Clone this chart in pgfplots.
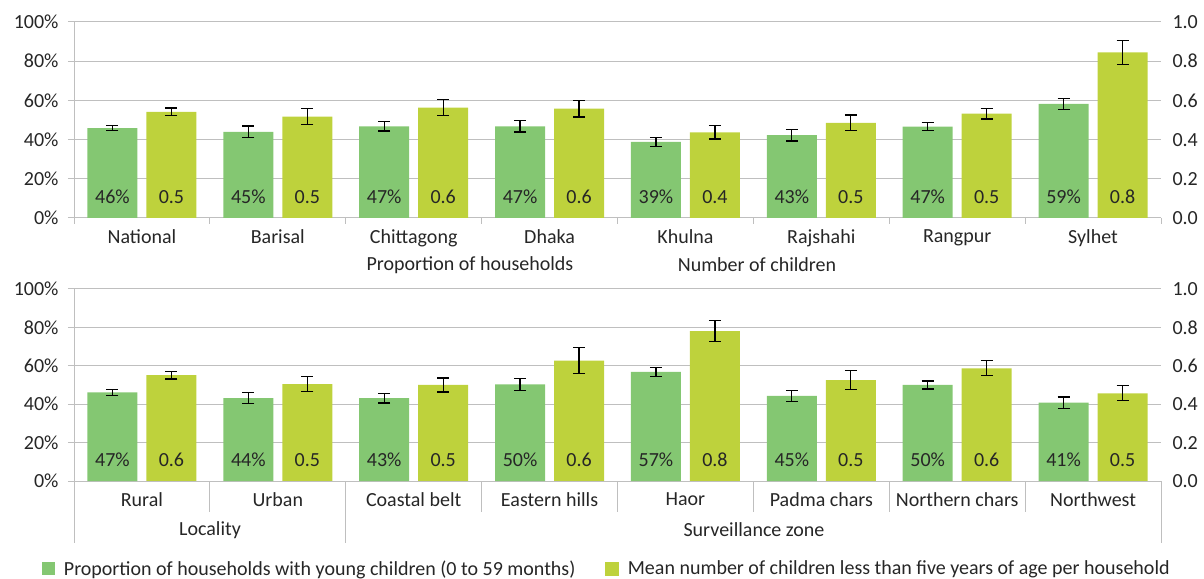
\documentclass[border=0pt]{standalone}
\usepackage{pgfplots}
\pgfplotsset{compat=1.18}
\usepackage{pgfplotstable}
\usepackage{fontspec}
\setmainfont{Carlito}
\newcommand\fs{\fontsize{20bp}{24bp}\selectfont}
\definecolor{gbar}{RGB}{132,199,114}
\definecolor{ygbar}{RGB}{190,210,60}
\definecolor{gridc}{RGB}{191,191,191}
\definecolor{txt}{RGB}{38,38,38}

% x  green  err   mean   err    label-green label-mean  zero
\pgfplotstableread{
x g ge y ye gl yl z
0 45.8 1.3 0.542 0.019 46 0.5 0
1 44.0 3.0 0.517 0.041 45 0.5 0
2 46.8 2.4 0.563 0.040 47 0.6 0
3 46.8 3.0 0.558 0.042 47 0.6 0
4 38.8 2.2 0.437 0.034 39 0.4 0
5 42.3 3.0 0.485 0.040 43 0.5 0
6 46.6 2.1 0.532 0.027 47 0.5 0
7 58.2 2.9 0.845 0.062 59 0.8 0
}\toptab

\pgfplotstableread{
x g ge y ye gl yl z
0 46.2 1.5 0.552 0.020 47 0.6 0
1 43.2 3.0 0.505 0.039 44 0.5 0
2 43.1 2.4 0.500 0.036 43 0.5 0
3 50.3 3.2 0.627 0.067 50 0.6 0
4 56.9 2.3 0.780 0.055 57 0.8 0
5 44.4 2.9 0.526 0.049 45 0.5 0
6 50.0 2.1 0.587 0.039 50 0.6 0
7 40.8 2.9 0.457 0.039 41 0.5 0
}\bottab

\pgfplotsset{
  /pgf/number format/assume math mode=true,
  base/.style={scale only axis, width=1087bp, xmin=-0.5, xmax=7.5,
    ybar, bar width=50bp, clip=false,
    tick label style={font=\fs, text=txt}},
  leftax/.style={base, ymin=0, ymax=100, ytick={0,20,...,100},
    yticklabel={\pgfmathprintnumber{\tick}\%},
    ymajorgrids, grid style={gridc, line width=1bp},
    axis lines*=left, axis line style={gridc, line width=1bp},
    tick align=outside, major tick length=6bp,
    ytick style={gridc, line width=1bp},
    xtick={0,...,7}, xtick style={draw=none},
    yticklabel style={xshift=-6bp},
    xticklabel style={yshift=-2bp}},
  rightax/.style={base, ymin=0, ymax=1, ytick={0,0.2,...,1},
    axis y line*=right, axis x line=none,
    y axis line style={draw=none}, tick style={draw=none},
    yticklabel style={/pgf/number format/.cd, fixed, fixed zerofill, precision=1, /tikz/.cd, xshift=8bp}},
  errs/.style={error bars/.cd, y dir=both, y explicit,
    error bar style={black, line width=1.3bp},
    error mark options={black, line width=1.3bp, mark size=6bp, rotate=90}, /pgfplots/.cd},
  labsg/.style={draw=none, fill=none, forget plot, bar shift=-29.5bp,
    point meta=explicit,
    nodes near coords={\pgfmathprintnumber{\pgfplotspointmeta}\%},
    every node near coord/.append style={anchor=center, yshift=21bp, font=\fs, text=txt}},
  labsy/.style={draw=none, fill=none, forget plot, bar shift=29.5bp,
    point meta=explicit,
    nodes near coords={\pgfmathprintnumber[fixed, fixed zerofill, precision=1]{\pgfplotspointmeta}},
    every node near coord/.append style={anchor=center, yshift=21bp, font=\fs, text=txt}},
}

\begin{document}
\begin{tikzpicture}[font=\fs]
\useasboundingbox (0bp,0bp) rectangle (1204bp,579bp);

% ---------- top panel ----------
\begin{axis}[leftax, at={(74bp,361bp)}, anchor=south west, height=196bp,
  xticklabels={National,Barisal,Chittagong,Dhaka,Khulna,Rajshahi,Rangpur,Sylhet}]
\addplot[fill=gbar, draw=none, bar shift=-29.5bp, errs] table[x=x, y=g, y error=ge]{\toptab};
\addplot[labsg] table[x=x, y=z, meta=gl]{\toptab};
\pgfplotsinvokeforeach{-0.5,0.5,1.5,2.5,3.5,4.5,5.5,6.5,7.5}{
  \draw[gridc, line width=1bp] (axis cs:#1,0) -- ++(0bp,-6bp);
}
\end{axis}
\begin{axis}[rightax, at={(74bp,361bp)}, anchor=south west, height=196bp]
\addplot[fill=ygbar, draw=none, bar shift=29.5bp, errs] table[x=x, y=y, y error=ye]{\toptab};
\addplot[labsy] table[x=x, y=z, meta=yl]{\toptab};
\end{axis}

% ---------- bottom panel ----------
\begin{axis}[leftax, at={(74bp,98bp)}, anchor=south west, height=192bp,
  xticklabels={Rural,Urban,Coastal belt,Eastern hills,Haor,Padma chars,Northern chars,Northwest},
  legend style={draw=none, fill=none, at={(-0.0297,-0.456)}, anchor=west,
    legend columns=2, font=\fs, text=txt, inner sep=0pt,
    /tikz/every odd column/.append style={column sep=7bp},
    /tikz/every even column/.append style={column sep=28bp}},
  legend cell align=left]
\addplot[fill=gbar, draw=none, bar shift=-29.5bp,
  legend image code/.code={\fill[gbar] (0bp,-6.5bp) rectangle (13bp,6.5bp);}, errs]
  table[x=x, y=g, y error=ge]{\bottab};
\addlegendentry{Proportion of households with young children (0 to 59 months)}
\addlegendimage{legend image code/.code={\fill[ygbar] (0bp,-6.5bp) rectangle (13bp,6.5bp);}}
\addlegendentry{Mean number of children less than five years of age per household}
\addplot[labsg] table[x=x, y=z, meta=gl]{\bottab};
\pgfplotsinvokeforeach{0.5,2.5,3.5,4.5,5.5,6.5}{
  \draw[gridc, line width=1bp] (axis cs:#1,0) -- ++(0bp,-31bp);
}
\pgfplotsinvokeforeach{-0.5,1.5,7.5}{
  \draw[gridc, line width=1bp] (axis cs:#1,0) -- ++(0bp,-62bp);
}
\end{axis}
\begin{axis}[rightax, at={(74bp,98bp)}, anchor=south west, height=192bp]
\addplot[fill=ygbar, draw=none, bar shift=29.5bp, errs] table[x=x, y=y, y error=ye]{\bottab};
\addplot[labsy] table[x=x, y=z, meta=yl]{\bottab};
\end{axis}

% ---------- group captions ----------
\node[text=txt] at (470bp,314bp) {Proportion of households};
\node[text=txt] at (757bp,314bp) {Number of children};
\node[text=txt] at (210bp,49bp) {Locality};
\node[text=txt] at (754bp,49bp) {Surveillance zone};
\end{tikzpicture}
\end{document}
